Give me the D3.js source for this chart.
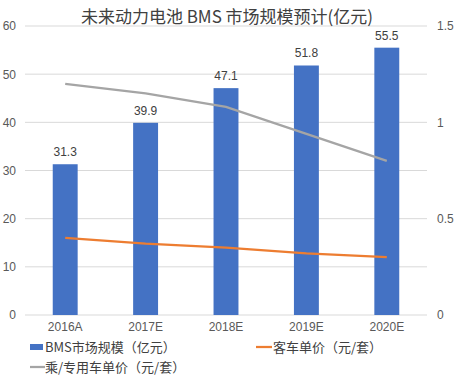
<!DOCTYPE html>
<html>
<head>
<meta charset="utf-8">
<script src="https://cdn.jsdelivr.net/npm/d3@7"></script>
<style>
  body { margin: 0; background: #fff; }
  text { font-family: "Noto Sans CJK SC", "Noto Sans", sans-serif; }
</style>
</head>
<body>
<script>
// Chart data
var years = ["2016A", "2017E", "2018E", "2019E", "2020E"];
var bmsMarket = [31.3, 39.9, 47.1, 51.8, 55.5];
var busPrice = [0.40, 0.37, 0.35, 0.32, 0.30];
var carPrice = [1.20, 1.15, 1.08, 0.94, 0.80];
var leftTicks = [0, 10, 20, 30, 40, 50, 60];
var rightTicks = [0, 0.5, 1, 1.5];

var svgWidth = 454;
var svgHeight = 377;

var margin = { top: 26, right: 27, bottom: 62, left: 25 };
var chartWidth = svgWidth - margin.left - margin.right;
var chartHeight = svgHeight - margin.top - margin.bottom;

var svg = d3.select("body")
  .append("svg")
  .attr("width", svgWidth)
  .attr("height", svgHeight);

var chartGroup = svg.append("g")
  .attr("transform", `translate(${margin.left}, ${margin.top})`);

// Scales
var xBand = d3.scaleBand()
  .domain(years)
  .range([0, chartWidth])
  .paddingInner(0.69)
  .paddingOuter(0.345);

var yLeft = d3.scaleLinear().domain([0, 60]).range([chartHeight, 0]);
var yRight = d3.scaleLinear().domain([0, 1.5]).range([chartHeight, 0]);

// Gridlines
chartGroup.append("g")
  .selectAll("line")
  .data(leftTicks)
  .enter()
  .append("line")
  .attr("x1", 0)
  .attr("x2", chartWidth)
  .attr("y1", d => yLeft(d))
  .attr("y2", d => yLeft(d))
  .attr("stroke", "#d9d9d9")
  .attr("stroke-width", 1);

// Axes (labels only)
var leftAxis = d3.axisLeft(yLeft).tickValues(leftTicks).tickSize(0).tickPadding(9);
var rightAxis = d3.axisRight(yRight).tickValues(rightTicks).tickSize(0).tickPadding(10)
  .tickFormat(d3.format("~g"));
var bottomAxis = d3.axisBottom(xBand).tickSize(0).tickPadding(7);

function styleAxis(g) {
  g.select(".domain").remove();
  g.selectAll("text")
    .attr("fill", "#595959")
    .style("font-size", "12px")
    .style("font-family", "'Liberation Sans', Arial, sans-serif");
}

chartGroup.append("g").call(leftAxis).call(styleAxis);
chartGroup.append("g").attr("transform", `translate(${chartWidth}, 0)`).call(rightAxis).call(styleAxis);
chartGroup.append("g").attr("transform", `translate(0, ${chartHeight})`).call(bottomAxis).call(styleAxis);

// Bars
chartGroup.selectAll(".bar")
  .data(bmsMarket)
  .enter()
  .append("rect")
  .attr("class", "bar")
  .attr("x", (d, i) => xBand(years[i]))
  .attr("y", d => yLeft(d))
  .attr("width", xBand.bandwidth())
  .attr("height", d => chartHeight - yLeft(d))
  .attr("fill", "#4472c4");

// Bar labels
chartGroup.selectAll(".barLabel")
  .data(bmsMarket)
  .enter()
  .append("text")
  .attr("x", (d, i) => xBand(years[i]) + xBand.bandwidth() / 2)
  .attr("y", d => yLeft(d) - 8)
  .attr("text-anchor", "middle")
  .attr("fill", "#404040")
  .style("font-size", "12px")
  .style("font-family", "'Liberation Sans', Arial, sans-serif")
  .text(d => d.toFixed(1));

// Lines
var xCenter = i => xBand(years[i]) + xBand.bandwidth() / 2;
var drawLine = d3.line()
  .x((d, i) => xCenter(i))
  .y(d => yRight(d));

chartGroup.append("path")
  .attr("d", drawLine(busPrice))
  .attr("fill", "none")
  .attr("stroke", "#ed7d31")
  .attr("stroke-width", 2.25);

chartGroup.append("path")
  .attr("d", drawLine(carPrice))
  .attr("fill", "none")
  .attr("stroke", "#a5a5a5")
  .attr("stroke-width", 2.25);

// Title
svg.append("text")
  .attr("x", 227)
  .attr("y", 23)
  .attr("text-anchor", "middle")
  .attr("fill", "#404040")
  .style("font-size", "17px")
  .text("未来动力电池 BMS 市场规模预计(亿元)");

// Legend
var legend = svg.append("g").style("font-size", "13px");

legend.append("rect")
  .attr("x", 30).attr("y", 344).attr("width", 13).attr("height", 6)
  .attr("fill", "#4472c4");
legend.append("text")
  .attr("x", 45).attr("y", 352).attr("fill", "#404040")
  .text("BMS市场规模（亿元）");

legend.append("line")
  .attr("x1", 256).attr("x2", 272).attr("y1", 347).attr("y2", 347)
  .attr("stroke", "#ed7d31").attr("stroke-width", 2.25);
legend.append("text")
  .attr("x", 273).attr("y", 352).attr("fill", "#404040")
  .text("客车单价（元/套）");

legend.append("line")
  .attr("x1", 30).attr("x2", 45).attr("y1", 367).attr("y2", 367)
  .attr("stroke", "#a5a5a5").attr("stroke-width", 2.25);
legend.append("text")
  .attr("x", 45).attr("y", 372).attr("fill", "#404040")
  .text("乘/专用车单价（元/套）");
</script>
</body>
</html>
